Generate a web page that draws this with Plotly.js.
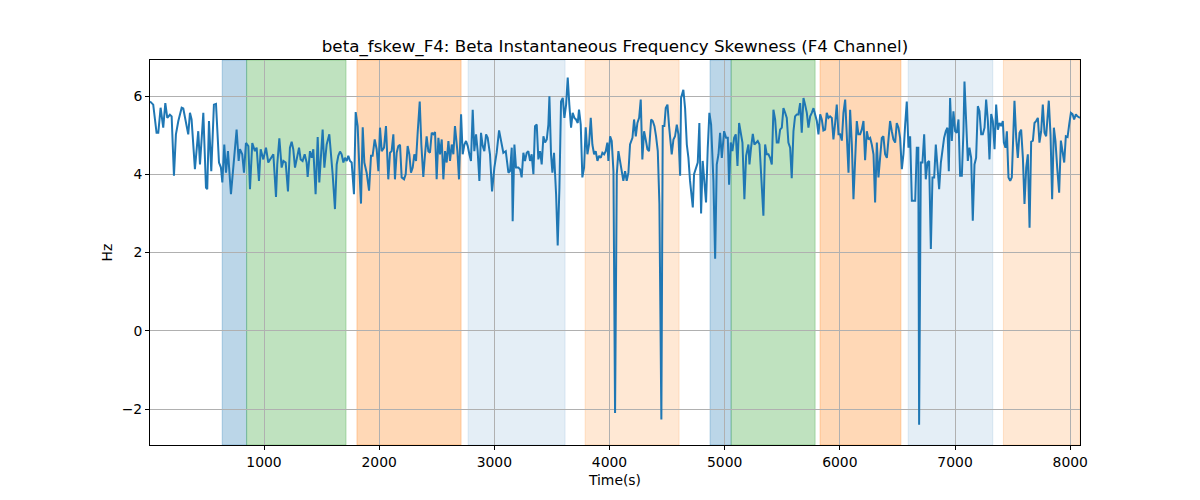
<!DOCTYPE html>
<html>
<head>
<meta charset="utf-8">
<script src="https://cdn.plot.ly/plotly-3.0.1.min.js"></script>
<style>
  body { margin: 0; background: #fff; }
  #chart { width: 1200px; height: 500px; }
</style>
</head>
<body>
<div id="chart"></div>
<script>
// time (s) and beta frequency skewness (Hz)
var timeSec = [
  10,38,67,82,102,125,143,160,183,198,218,235,256,285,299,322,342,357,371,400,
  429,444,473,496,507,522,542,565,583,609,626,638,655,670,687,713,739,762,780,791,
  811,826,843,864,878,898,921,936,956,971,994,1017,1037,
  1081,1104,1115,1133,1153,1168,1188,1208,1225,1240,1254,1269,1289,1304,1318,1335,1353,1370,1379,1399,
  1414,1428,1448,1466,1480,1495,1509,1524,1544,1567,1582,1596,1616,1631,1645,1660,1674,1689,1703,1718,
  1732,1747,1761,1781,1796,1813,1828,1842,1857,1871,1891,1912,1929,1943,1961,1978,1993,2007,2022,2042,
  2059,2079,
  2094,2108,2123,2137,2152,2166,2181,2195,2216,2230,2247,2262,2276,2291,2305,2320,2334,2352,2366,2383,
  2398,2412,2427,2441,2456,2470,2485,2499,2514,2528,2543,2557,2572,2586,2601,2615,2630,2644,2658,2679,
  2693,2711,2725,2740,2754,2769,2783,2797,2812,2826,2841,2855,2870,2884,2899,2913,2928,2942,2962,2980,
  3000,3020,3041,3058,3078,3099,3116,
  3122,3136,3151,3159,3174,3188,3208,3223,3237,3252,3266,3281,3295,3310,3324,3339,3353,3368,3382,3397,
  3411,3426,3440,3455,3469,3478,3492,3504,3518,3536,3550,3565,3579,3594,3608,3623,3637,3651,3666,3680,
  3695,3709,3724,3735,3750,3764,3779,3793,3808,3822,3837,3851,3866,3880,3895,3909,3924,3938,3953,3967,
  3981,3990,4005,4019,4034,4048,4063,4077,4092,4106,4120,4135,4149,4164,
  4178,4199,4213,4228,4242,4257,4271,4285,4300,4314,4329,4343,4361,4375,4390,4404,4419,4433,4450,4462,
  4476,4488,4503,4517,4532,4540,4555,4569,4584,4598,4613,4621,4641,4656,4671,4685,4699,4723,4734,4752,
  4766,4780,4795,4809,4824,4838,4853,4867,4882,4902,4917,4931,4946,4960,4975,4995,5012,5027,5038,5053,
  5067,5082,5096,5111,5125,5140,5154,5171,5186,5206,
  5215,5229,5244,5258,5273,5287,5302,5316,5336,5351,5365,5380,5394,5409,5423,5438,5452,5467,5481,5496,
  5510,5525,5539,5553,5568,5582,5597,5611,5626,5640,5655,5669,5684,5698,5713,5727,5742,5756,5771,5785,
  5800,5814,5829,5843,5857,5872,5886,5901,5915,5930,5944,5959,5973,5988,6002,6017,6031,6046,6060,6075,
  6089,6104,6118,6133,6147,6161,6176,6190,6205,6219,6234,6248,
  6263,6277,6292,6306,6321,6335,6350,6364,6378,6393,6408,6422,6436,6451,6465,6480,6494,6509,6523,6538,
  6552,6567,6581,6596,6610,6625,6639,6654,6668,6681,6688,6703,6717,6732,6746,6761,6775,6790,6804,6819,
  6833,6848,6862,6877,6891,6905,6920,6934,6946,6957,6972,6986,7001,7015,7030,7044,7059,7073,7082,7097,
  7111,7125,7140,7154,7169,7183,7198,7212,7227,7241,7256,7270,7285,7299,
  7314,7328,7343,7357,7372,7386,7401,7415,7424,7438,7450,7464,7479,7493,7508,7516,7531,7545,7560,7574,
  7589,7603,7618,7632,7647,7661,7676,7690,7704,7719,7733,7748,7762,7777,7791,7806,7814,7829,7843,7858,
  7872,7887,7904,7919,7933,7948,7962,7977,7991,8006,8020,8034,8049,8063,8085
];
var skewHz = [
  5.86,5.78,5.06,5.06,5.7,5.19,5.82,5.44,5.52,5.48,3.96,5.02,5.36,5.7,5.68,5.27,5.02,5.57,5.4,4.13,
  5.1,4.25,5.57,3.66,3.62,5.36,4.08,5.78,5.8,4.3,4.17,3.79,4.76,4.04,4.59,3.49,4.34,5.14,4.34,4.64,
  4.51,4.04,4.8,4.72,3.62,4.8,4.59,4.68,3.83,4.64,4.38,4.68,4.30,
  4.51,3.42,4.25,4.92,4.17,4.34,4.30,3.56,4.68,4.83,4.64,4.17,4.42,4.68,4.38,4.34,4.51,4.30,3.93,4.59,
  4.42,4.64,3.49,4.95,3.79,4.51,5.14,4.17,4.76,5.02,4.51,4.0,3.11,4.25,4.47,4.58,4.51,4.30,4.42,4.34,
  4.47,4.34,4.30,3.49,5.59,5.23,4.13,3.25,5.2,4.30,4.04,3.58,4.47,4.47,4.89,4.64,4.08,5.19,4.59,4.68,
  5.23,3.87,
  4.55,4.59,5.02,3.87,4.55,4.72,4.75,3.92,3.87,4.0,4.72,4.51,4.04,4.17,4.51,4.34,5.06,5.86,4.76,3.93,
  4.51,4.97,4.59,4.55,5.06,5.02,5.08,3.87,4.93,4.51,4.89,3.87,4.59,4.30,4.85,4.34,4.76,4.51,5.23,4.59,
  3.87,5.53,4.51,4.76,4.85,4.72,4.51,4.34,5.65,4.59,5.02,4.59,3.83,5.06,4.72,4.59,5.02,4.93,4.51,3.56,
  4.17,4.55,5.12,4.89,4.55,4.59,4.04,
  4.04,4.08,4.68,2.80,4.76,4.17,4.17,4.13,3.92,4.55,4.34,4.55,4.59,4.34,4.51,4.0,5.23,5.27,4.38,4.59,
  4.25,4.97,4.81,4.89,5.27,5.99,4.51,4.04,4.55,3.49,2.18,3.66,5.86,5.95,5.44,5.78,6.47,5.78,5.19,5.57,
  5.44,5.40,5.31,5.65,5.27,3.92,4.17,5.2,4.51,4.76,5.44,4.76,4.51,4.59,4.34,4.47,4.42,4.55,4.51,4.59,
  4.81,4.34,4.97,4.85,4.08,-2.1,4.0,4.59,4.30,4.0,3.83,4.08,3.83,4.04,
  4.76,4.93,5.40,4.97,5.31,5.44,5.91,4.38,5.10,4.89,4.64,4.59,5.40,5.36,5.23,4.97,4.59,3.24,-2.27,5.23,
  5.23,5.69,5.78,5.23,4.85,4.51,4.89,4.97,5.27,5.02,3.96,5.95,6.16,5.69,4.76,4.42,3.83,3.15,4.0,4.17,
  4.30,5.31,3.0,4.34,3.83,3.28,4.68,5.57,5.27,3.83,1.84,4.25,4.51,5.06,4.42,5.10,4.93,4.93,3.73,4.81,
  4.59,4.93,5.02,4.21,5.31,5.10,4.81,3.36,4.47,4.76,
  4.25,4.68,5.03,4.76,4.81,4.85,4.76,4.08,2.94,4.76,4.51,4.51,4.42,4.25,5.65,5.40,4.81,4.81,5.14,5.19,
  5.69,5.57,5.44,4.81,4.68,3.90,5.10,5.48,5.53,5.53,5.82,5.06,5.95,5.78,5.57,5.19,5.48,5.57,5.69,5.53,
  5.36,5.02,5.53,5.40,5.12,5.14,5.57,5.44,5.48,5.44,4.89,5.31,5.78,5.02,5.02,4.86,5.57,5.91,4.93,4.04,
  5.65,4.76,3.36,4.42,5.36,5.02,5.02,5.14,5.36,4.36,5.10,4.89,
  4.93,4.76,4.51,3.28,4.81,3.92,4.51,4.93,4.97,4.51,4.42,4.93,5.36,5.10,4.89,4.81,5.31,5.19,4.93,4.13,
  4.51,5.27,5.86,4.68,4.97,3.32,3.32,3.32,4.68,4.68,-2.40,4.30,4.30,5.02,3.87,4.30,4.34,2.09,3.92,3.92,
  4.76,4.08,3.62,4.30,4.59,4.93,5.10,5.19,4.08,5.95,4.85,5.61,5.10,5.06,5.40,3.96,3.96,5.10,6.37,5.36,
  4.34,4.68,4.42,2.81,4.25,4.42,5.74,5.61,5.02,5.02,5.19,5.91,5.36,4.38,
  5.54,5.36,4.64,5.78,5.14,5.31,5.23,5.36,4.81,4.68,5.10,3.92,3.83,3.92,5.23,5.88,4.93,4.42,5.06,5.14,
  4.42,3.24,4.17,4.51,2.63,4.83,4.86,5.31,5.36,5.44,4.81,5.10,5.78,5.06,4.97,5.57,5.88,5.02,3.36,5.19,
  4.85,4.17,3.53,4.86,4.59,4.30,4.97,4.95,5.27,5.57,5.54,5.40,5.53,5.48,5.44
];

// shaded intervals (s) and which kind each one is
var bandStart = [637, 849, 1807, 2772, 3788, 4873, 5056, 5828, 6593, 7420];
var bandEnd   = [849, 1712, 2711, 3614, 4604, 5056, 5785, 6530, 7328, 8085];
var bandKind  = ['blue', 'green', 'orange', 'paleblue', 'paleorange',
                 'blue', 'green', 'orange', 'paleblue', 'paleorange'];

var xTicks = [1000, 2000, 3000, 4000, 5000, 6000, 7000, 8000];
var yTicks = [-2, 0, 2, 4, 6];

var kindFill = {
  blue: 'rgba(31,119,180,0.3)',
  green: 'rgba(44,160,44,0.3)',
  orange: 'rgba(255,127,14,0.3)',
  paleblue: 'rgba(31,119,180,0.12)',
  paleorange: 'rgba(255,127,14,0.18)'
};

// axvspan-like rectangles, edge drawn in the same translucent colour
var shapes = bandStart.map(function(s, i) {
  var c = kindFill[bandKind[i]];
  return {
    type: 'rect', xref: 'x', yref: 'paper',
    x0: s, x1: bandEnd[i], y0: 0, y1: 1,
    fillcolor: c,
    line: {width: 1, color: c},
    layer: 'below'
  };
});

var font = 'DejaVu Sans, sans-serif';

Plotly.newPlot('chart', [{
  x: timeSec,
  y: skewHz,
  mode: 'lines',
  line: {color: '#1f77b4', width: 2},
  hoverinfo: 'x+y'
}], {
  width: 1200,
  height: 500,
  margin: {l: 150, r: 120, t: 60, b: 55},
  paper_bgcolor: '#fff',
  plot_bgcolor: 'rgba(0,0,0,0)',
  showlegend: false,
  font: {family: font, size: 14, color: '#000'},
  title: {
    text: 'beta_fskew_F4: Beta Instantaneous Frequency Skewness (F4 Channel)',
    font: {family: font, size: 16.7, color: '#000'},
    x: 0.5, xref: 'paper', xanchor: 'center',
    y: 0.908, yref: 'container', yanchor: 'middle'
  },
  xaxis: {
    range: [10, 8085],
    tickvals: xTicks,
    ticks: 'outside', ticklen: 4, tickcolor: '#000',
    showgrid: true, gridcolor: '#b0b0b0', gridwidth: 1,
    zeroline: false,
    showline: true, mirror: true, linecolor: '#000', linewidth: 1,
    tickfont: {family: font, size: 13.9},
    title: {text: 'Time(s)', font: {family: font, size: 13.9}, standoff: 6}
  },
  yaxis: {
    range: [-2.92, 6.92],
    tickvals: yTicks,
    ticks: 'outside', ticklen: 4, tickcolor: '#000',
    showgrid: true, gridcolor: '#b0b0b0', gridwidth: 1,
    zeroline: false,
    showline: true, mirror: true, linecolor: '#000', linewidth: 1,
    tickfont: {family: font, size: 13.9},
    title: {text: 'Hz', font: {family: font, size: 13.9}, standoff: 5}
  },
  shapes: shapes
}, {displayModeBar: false, responsive: false});
</script>
</body>
</html>
